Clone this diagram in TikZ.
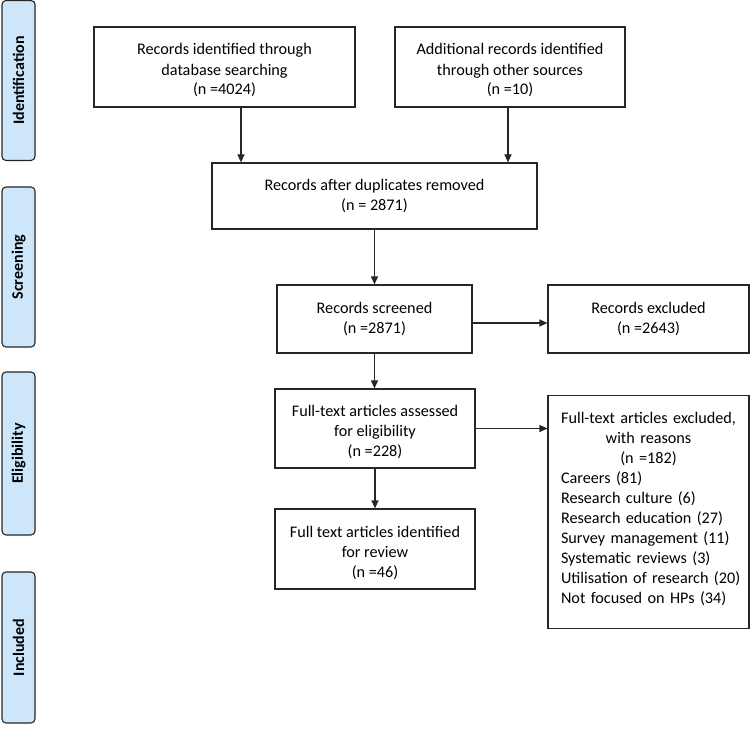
\documentclass[tikz,border=0pt]{standalone}
\usepackage{fontspec}
\setmainfont{Carlito}
\usetikzlibrary{arrows.meta,positioning,calc}
\definecolor{sidefill}{HTML}{CDE6FA}
\definecolor{linecol}{HTML}{262626}
\begin{document}
\begin{tikzpicture}[x=1pt,y=-1pt,
  every node/.style={font=\fontsize{16.2}{20}\selectfont, text=black},
  flowbox/.style={draw=linecol, line width=1.2pt, rectangle, align=center, inner sep=2pt},
  boxtext/.style={align=center, inner sep=0pt},
  sidebox/.style={draw=linecol, line width=1.1pt, fill=sidefill, rounded corners=4pt, minimum width=33pt, rotate=90, font=\fontsize{16}{18}\selectfont\bfseries},
  arr/.style={draw=linecol, line width=1.2pt, -{Triangle[length=8pt,width=7pt]}}
]
\useasboundingbox (0,0) rectangle (750,733);

% side phase labels
\node[sidebox, minimum height=33pt, minimum width=160pt] (s1) at (18.5,80.5) {Identification};
\node[sidebox, minimum height=33pt, minimum width=160pt] (s2) at (18.5,267) {Screening};
\node[sidebox, minimum height=33pt, minimum width=163pt] (s3) at (18.5,453.5) {Eligibility};
\node[sidebox, minimum height=33pt, minimum width=151pt] (s4) at (18.5,647.5) {Included};

% flow boxes
\node[flowbox, minimum width=261pt, minimum height=80pt] (A) at (224.5,67) {};
\node[boxtext] (At) at ([yshift=-3.5pt]A.center)
  {Records identified through\\database searching\\(n =4024)};
\node[flowbox, minimum width=230pt, minimum height=80pt] (B) at (510,67) {};
\node[boxtext] (Bt) at ([yshift=-3.5pt]B.center)
  {Additional records identified\\through other sources\\(n =10)};
\node[flowbox, minimum width=325pt, minimum height=66pt] (C) at (374.5,196)
  {Records after duplicates removed\\(n = 2871)};
\node[flowbox, minimum width=195pt, minimum height=68pt] (D) at (374.5,319)
  {Records screened\\(n =2871)};
\node[flowbox, minimum width=201pt, minimum height=68pt] (E) at (648.5,319)
  {Records excluded\\(n =2643)};
\node[flowbox, minimum width=200pt, minimum height=79pt] (F) at (375,428.5) {};
\node[boxtext] (Ft) at ([yshift=-3.5pt]F.center)
  {Full-text articles assessed\\for eligibility\\(n =228)};
\node[flowbox, minimum width=200pt, minimum height=80pt] (H) at (375,549) {};
\node[boxtext] (Ht) at ([yshift=-3.5pt]H.center)
  {Full text articles identified\\for review\\(n =46)};
\node[draw=linecol, line width=1.2pt, rectangle, minimum width=201pt, minimum height=233pt,
      anchor=north] (G) at (648.5,395) {};
\node[text width=187pt, inner sep=0pt, anchor=north] (Gt) at ([yshift=-17pt]G.north)
  {\centering Full-text articles excluded,\\with reasons\\(n =182)\par
   \raggedright\leftskip=6pt Careers (81)\\Research culture (6)\\Research education (27)\\Survey management (11)\\Systematic reviews (3)\\Utilisation of research (20)\\Not focused on HPs (34)\par};

% connectors
\draw[arr] ([xshift=16.5pt]A.south) -- ([xshift=16.5pt]A.south |- C.north);
\draw[arr] ([xshift=-2pt]B.south) -- ([xshift=-2pt]B.south |- C.north);
\draw[arr] (C.south) -- (C.south |- D.north);
\draw[arr] ([yshift=-4pt]D.east) -- ([yshift=-4pt]D.east -| E.west);
\draw[arr] (D.south) -- (D.south |- F.north);
\draw[arr] (F.east) -- (F.east -| G.west);
\draw[arr] (F.south) -- (F.south |- H.north);
\end{tikzpicture}
\end{document}
